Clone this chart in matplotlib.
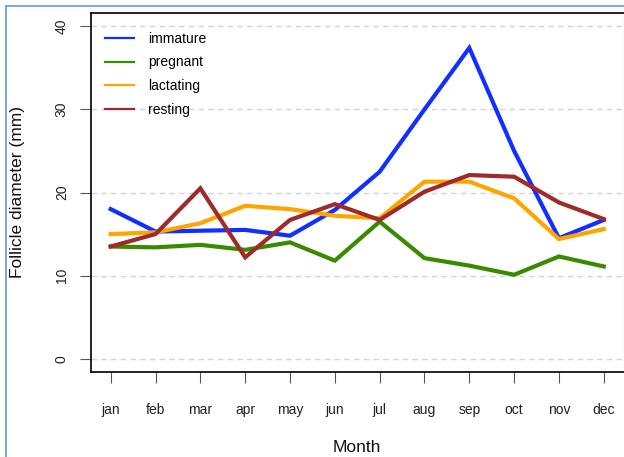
import numpy as np
import matplotlib.pyplot as plt
from matplotlib.lines import Line2D

plt.rcParams['font.family'] = ['Liberation Sans', 'DejaVu Sans']

# Monthly mean follicle diameter (mm)
months = ["jan", "feb", "mar", "apr", "may", "jun", "jul", "aug", "sep", "oct", "nov", "dec"]
immature = [18.0, 15.3, 15.4, 15.5, 14.8, 17.9, 22.5, 30.0, 37.4, 25.0, 14.5, 16.7]
pregnant = [13.5, 13.4, 13.7, 13.1, 14.0, 11.8, 16.5, 12.1, 11.2, 10.1, 12.3, 11.1]
lactating = [15.0, 15.2, 16.3, 18.4, 18.0, 17.2, 16.9, 21.3, 21.3, 19.3, 14.4, 15.6]
resting = [13.5, 15.0, 20.5, 12.2, 16.7, 18.6, 16.7, 20.1, 22.1, 21.9, 18.8, 16.8]

series = [("immature", immature, "#1030FF"),
          ("pregnant", pregnant, "#3A8A00"),
          ("lactating", lactating, "#FFA500"),
          ("resting", resting, "#9E2A2A")]

fig = plt.figure(figsize=(6.24, 4.57), dpi=100)
ax = fig.add_axes([91 / 624, 1 - 372 / 457, (623.5 - 91) / 624, (372 - 13) / 457])

x = np.arange(1, len(months) + 1)

# dashed horizontal guides
for yv in [0, 10, 20, 30, 40]:
    ax.axhline(yv, color="#D3D3D3", linestyle=(0, (4, 3)), linewidth=1, zorder=0)

for name, vals, col in series:
    ax.plot(x, vals, color=col, linewidth=3, solid_joinstyle="miter", label=name)

ax.set_xlim(0.56, 12.44)
ax.set_ylim(-1.6, 41.6)
ax.set_xticks(x)
ax.set_xticklabels(months)
ax.set_yticks([0, 10, 20, 30, 40])
ax.tick_params(axis="x", length=8, width=0.8, color="#555555", pad=14, labelsize=10, labelcolor="#222222")
ax.tick_params(axis="y", length=8, width=0.8, color="#555555", pad=8, labelsize=10, labelcolor="#222222")
for lbl in ax.get_yticklabels():
    lbl.set_rotation(90)
    lbl.set_va("center")

for side in ["left", "bottom", "top"]:
    ax.spines[side].set_linewidth(1.3)
    ax.spines[side].set_color("#111111")
ax.spines["right"].set_color("#999999")

handles = [Line2D([0], [0], color=c, linewidth=1.6) for _, _, c in series]
ax.legend(handles, [s[0] for s in series], loc="upper left", frameon=False,
          fontsize=10, handlelength=2.1, handletextpad=1.0, labelspacing=0.7,
          borderaxespad=0.3, bbox_to_anchor=(0.008, 0.975))

fig.text(357 / 624, 1 - 448 / 457, "Month", ha="center", va="center", fontsize=12.5, color="#111111")
fig.text(18 / 624, 1 - 192 / 457, "Follicle diameter (mm)", ha="center", va="center",
         rotation=90, fontsize=12.5, color="#111111")

# screenshot frame
fig.add_artist(Line2D([6 / 624, 1], [1 - 6 / 457, 1 - 6 / 457], color="#5B9BD5", linewidth=1.2))
fig.add_artist(Line2D([6 / 624, 6 / 624], [0, 1 - 6 / 457], color="#5B9BD5", linewidth=1.2))

fig.savefig("out.png", dpi=100)
